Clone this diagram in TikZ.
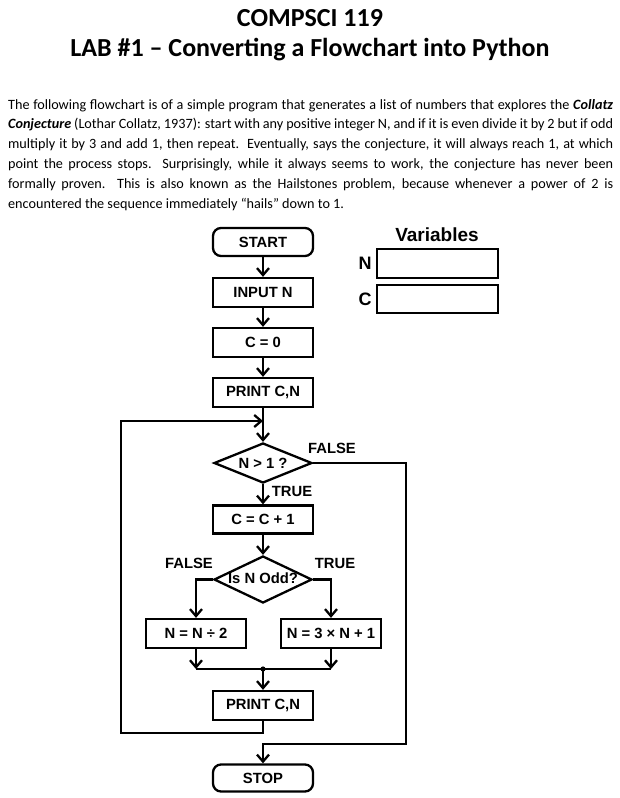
\documentclass[tikz,border=0pt]{standalone}
\usepackage{fontspec}
\setmainfont{Carlito}
\newfontfamily\arialf{Liberation Sans}
\usetikzlibrary{arrows.meta,shapes.geometric}
\begin{document}
\begin{tikzpicture}[x=1pt,y=-1pt,
  line width=2.3pt,
  >={Straight Barb[length=7pt,width=12pt,line width=2.3pt]},
  ff/.style={font=\arialf\bfseries\fontsize{14.8}{14.8}\selectfont},
  box/.style={ff,draw,line width=2.3pt,minimum width=100pt,minimum height=29pt,inner sep=0pt},
  term/.style={box,rounded corners=8pt,minimum height=28pt},
  dec/.style={ff,draw,diamond,line width=2.3pt,inner sep=0pt,minimum width=98pt},
  lbl/.style={ff,inner sep=0pt},
  varbox/.style={draw,line width=2.3pt,minimum width=121pt,minimum height=28.5pt,inner sep=0pt}
]
\useasboundingbox[fill=white] (0,0) rectangle (619,798);

% title
\node[inner sep=0pt,font=\bfseries\fontsize{26}{26}\selectfont] (t1) at (310,18) {COMPSCI 119};
\node[inner sep=0pt,font=\bfseries\fontsize{26}{26}\selectfont] (t2) at (310,50) {LAB \#1 – Converting a Flowchart into Python};

% paragraph
\node[anchor=north west,inner sep=0pt,text width=605pt,align=justify,
      font=\fontsize{14.2}{19.8}\selectfont] (para) at (7,98) {%
The following flowchart is of a simple program that generates a list of numbers that explores the \textbf{\textit{Collatz}}\linebreak
\textbf{\textit{Conjecture}} (Lothar Collatz, 1937): start with any positive integer N, and if it is even divide it by 2 but if odd\linebreak
multiply it by 3 and add 1, then repeat.\ \ Eventually, says the conjecture, it will always reach 1, at which\linebreak
point the process stops.\ \ Surprisingly, while it always seems to work, the conjecture has never been\linebreak
formally proven.\ \ This is also known as the Hailstones problem, because whenever a power of 2 is\linebreak
encountered the sequence immediately “hails” down to 1.};

% variables
\node[inner sep=0pt,font=\arialf\bfseries\fontsize{19}{19}\selectfont] (vars) at (437,235) {Variables};
\node[varbox] (vn) at (437.5,263.5) {};
\node[varbox] (vc) at (437.5,299) {};
\node[inner sep=0pt,font=\arialf\bfseries\fontsize{18}{18}\selectfont] (ln) at (365,263.5) {N};
\node[inner sep=0pt,font=\arialf\bfseries\fontsize{18}{18}\selectfont] (lc) at (365,299) {C};

% flowchart nodes
\node[term] (start) at (263,242) {START};
\node[box] (input) at (263,292.5) {INPUT N};
\node[box] (c0) at (263,342.5) {C = 0};
\node[box] (print1) at (263,392.5) {PRINT C,N};
\node[dec,aspect=2.45,minimum height=40pt] (d1) at (263,463) {N > 1 ?};
\node[box,minimum height=28pt] (inc) at (263,519.5) {C = C + 1};
\node[dec,aspect=2.08,minimum height=47pt] (d2) at (263,579.5) {\raisebox{2pt}{Is N Odd?}};
\node[box] (half) at (196,633.5) {N = N ÷ 2};
\node[box] (triple) at (331,633.5) {N = 3 × N + 1};
\node[box] (print2) at (263,705.5) {PRINT C,N};
\node[term,minimum height=27pt] (stop) at (263,778) {STOP};

% helper coordinates
\coordinate (j1) at (263,421);
\coordinate (m) at (263,669);
\coordinate (hl) at (196,669);
\coordinate (hr) at (331,669);

% connectors
\draw[->] (start) -- (input);
\draw[->] (input) -- (c0);
\draw[->] (c0) -- (print1);
\draw (print1.south) -- (j1);
\draw[->] (j1) -- (d1.north);
\draw[->] (d1.south) -- (inc.north);
\draw[->] (inc.south) -- (d2.north);
\draw[->] (d2.west) -| (half.north);
\draw[->] (d2.east) -| (triple.north);
\draw[->] (half.south) -- (hl);
\draw[->] (triple.south) -- (hr);
\draw (hl) -- (hr);
\fill (m) circle (2.6pt);
\draw[->] (m) -- (print2.north);
\draw[->] (print2.south) -- (263,733) -- (121,733) -- (121,421) -- (j1);
\draw[->] (d1.east) -- (406,463) -- (406,744) -- (263,744) -- (stop.north);

% branch labels
\node[lbl] (f1) at (332,448) {FALSE};
\node[lbl] (tr1) at (292,491) {TRUE};
\node[lbl] (f2) at (189,563) {FALSE};
\node[lbl] (tr2) at (335,563) {TRUE};
\end{tikzpicture}
\end{document}
